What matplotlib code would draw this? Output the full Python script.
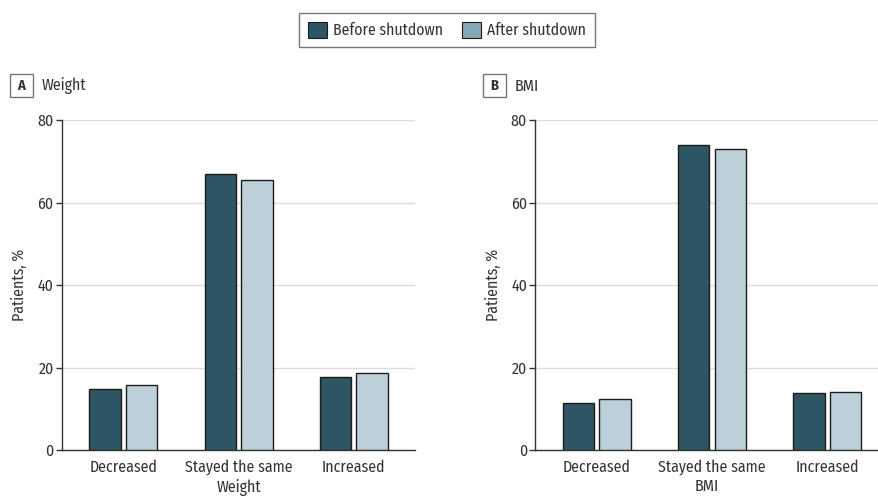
import matplotlib
matplotlib.use("Agg")
import matplotlib.pyplot as plt
from matplotlib.patches import Patch, Rectangle
from matplotlib import font_manager
import numpy as np

CATEGORIES = ["Decreased", "Stayed the same", "Increased"]
WEIGHT_BEFORE = [14.8, 67.0, 17.8]
WEIGHT_AFTER = [15.7, 65.5, 18.6]
BMI_BEFORE = [11.5, 74.0, 13.7]
BMI_AFTER = [12.3, 73.0, 14.1]
SERIES = ["Before shutdown", "After shutdown"]
YTICKS = [0, 20, 40, 60, 80]

C_BEFORE = "#2e5563"
C_AFTER = "#bdd0d9"
C_AFTER_LEG = "#86a9b8"
C_TEXT = "#333333"
C_GRID = "#dcdcdc"

W = 0.272
OFF = 0.159

# font condensato tipo Frutiger, se c'e'
names = {f.name for f in font_manager.fontManager.ttflist}
FAM = "Noto Sans"
for cand in ["Fira Sans Condensed", "PT Sans Narrow", "Roboto Condensed",
             "Asap Condensed", "Open Sans Condensed", "Liberation Sans Narrow"]:
    if cand in names:
        FAM = cand
        break
plt.rcParams["font.family"] = [FAM, "DejaVu Sans"]

fig = plt.figure(figsize=(8.79, 5.0), dpi=100)


def fit_size(s, target_px, weight="normal"):
    # dimensione del font tale che la stringa sia larga target_px
    r = fig.canvas.get_renderer()
    t = fig.text(0, 0, s, fontsize=10, fontweight=weight)
    w = t.get_window_extent(renderer=r).width
    t.remove()
    return 10 * target_px / w


FS = fit_size("Decreased", 68)
FS_LEG = fit_size("Before shutdown", 110)


def panel(ax, before, after, letter, title, xlabel, xlim, box_x):
    x = np.arange(len(CATEGORIES))
    ax.bar(x - OFF, before, W, color=C_BEFORE, edgecolor="#1c1c1c", linewidth=1.0, zorder=3)
    ax.bar(x + OFF, after, W, color=C_AFTER, edgecolor="#1c1c1c", linewidth=1.0, zorder=3)
    ax.set_xlim(*xlim)
    ax.set_ylim(0, 80)
    ax.set_yticks(YTICKS)
    ax.set_xticks(x)
    ax.set_xticklabels(CATEGORIES, fontsize=FS, color=C_TEXT)
    ax.tick_params(axis="x", length=0, pad=7)
    ax.tick_params(axis="y", length=4, width=1, color=C_TEXT, labelsize=FS,
                   labelcolor=C_TEXT, pad=2)
    ax.yaxis.grid(True, color=C_GRID, linewidth=1.0, zorder=0)
    ax.set_axisbelow(True)
    for s in ("top", "right"):
        ax.spines[s].set_visible(False)
    for s in ("left", "bottom"):
        ax.spines[s].set_color(C_TEXT)
        ax.spines[s].set_linewidth(1.0)
    ax.set_ylabel("Patients, %", fontsize=FS, color=C_TEXT, labelpad=7)
    ax.set_xlabel(xlabel, fontsize=FS, color=C_TEXT, labelpad=2)
    # lettera del pannello nel riquadro + titolo
    fig.add_artist(Rectangle((box_x / 879, 1 - 97 / 500), 23 / 879, 23 / 500,
                             transform=fig.transFigure, fc="white", ec="#777777", lw=1.0))
    fig.text((box_x + 11.5) / 879, 1 - 86 / 500, letter, fontsize=FS - 1, fontweight="bold",
             color=C_TEXT, ha="center", va="center")
    fig.text((box_x + 32) / 879, 1 - 86 / 500, title, fontsize=FS, color=C_TEXT,
             ha="left", va="center")


ax_a = fig.add_axes([62 / 879, 50 / 500, 353 / 879, 330 / 500])
ax_b = fig.add_axes([535.3 / 879, 50 / 500, 343.7 / 879, 330 / 500])

panel(ax_a, WEIGHT_BEFORE, WEIGHT_AFTER, "A", "Weight", "Weight", (-0.532, 2.531), 10)
panel(ax_b, BMI_BEFORE, BMI_AFTER, "B", "BMI", "BMI", (-0.531, 2.448), 483)

handles = [Patch(facecolor=C_BEFORE, edgecolor="#1c1c1c", linewidth=0.8),
           Patch(facecolor=C_AFTER_LEG, edgecolor="#1c1c1c", linewidth=0.8)]
leg = fig.legend(handles, SERIES, loc="center", bbox_to_anchor=(447 / 879, 1 - 30 / 500),
                 ncol=2, frameon=True, fancybox=False, fontsize=FS_LEG,
                 handlelength=1.2, handleheight=1.2, handletextpad=0.4,
                 columnspacing=1.2, borderpad=0.55, borderaxespad=0)
leg.get_frame().set_edgecolor("#555555")
leg.get_frame().set_linewidth(1.0)
for t in leg.get_texts():
    t.set_color(C_TEXT)

fig.savefig("out.png", dpi=100)
